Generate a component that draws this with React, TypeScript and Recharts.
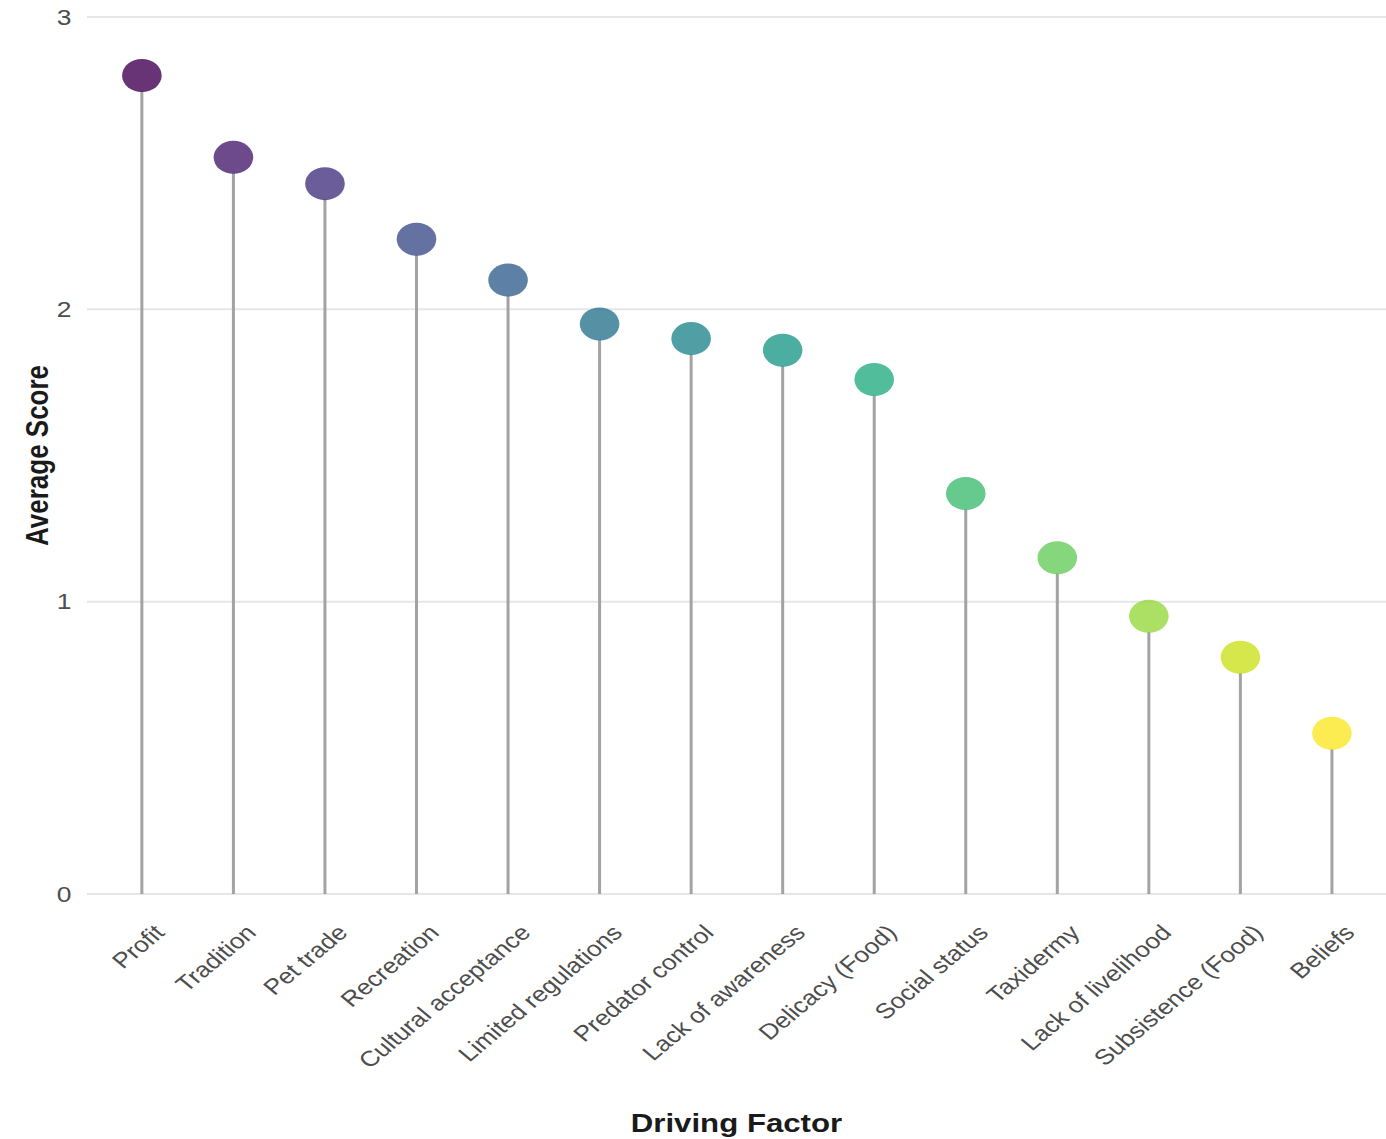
import { BarChart, Bar, XAxis, YAxis, CartesianGrid } from "recharts";

// the reference is stretched horizontally, so the chart is drawn narrower and scaled back out
const STRETCH = 1.2;
const WIDTH = 1386;
const HEIGHT = 1139;

const factors = [
  "Profit",
  "Tradition",
  "Pet trade",
  "Recreation",
  "Cultural acceptance",
  "Limited regulations",
  "Predator control",
  "Lack of awareness",
  "Delicacy (Food)",
  "Social status",
  "Taxidermy",
  "Lack of livelihood",
  "Subsistence (Food)",
  "Beliefs",
];

const scores = [2.8, 2.52, 2.43, 2.24, 2.1, 1.95, 1.9, 1.86, 1.76, 1.37, 1.15, 0.95, 0.81, 0.55];

const yTicks = [0, 1, 2, 3];

// viridis, 14 steps
const palette = [
  "#440154",
  "#481D6F",
  "#453581",
  "#3D4D8A",
  "#34618D",
  "#2B748E",
  "#24878E",
  "#1F998A",
  "#25AC82",
  "#40BC72",
  "#67CC5C",
  "#97D83F",
  "#CBE11E",
  "#FDE725",
];

const chartData = factors.map((factor, i) => ({ factor, score: scores[i] }));

const FONT = "'Liberation Sans', Arial, sans-serif";
const TEXT = "#4d4d4d";
const DOT_R = 16.5;

function Lollipop(props: any) {
  const { x, y, width, height, index } = props;
  const cx = x + width / 2;
  return (
    <g>
      <line x1={cx} y1={y + DOT_R - 1} x2={cx} y2={y + height} stroke="#a3a3a3" strokeWidth={2.5} />
      <circle cx={cx} cy={y} r={DOT_R} fill={palette[index]} fillOpacity={0.8} />
    </g>
  );
}

function FactorTick(props: any) {
  const { x, y, payload } = props;
  return (
    <g transform={`translate(${x + 20},${y + 40})`}>
      <text
        textAnchor="end"
        transform="rotate(-45)"
        fontSize={21.7}
        fontFamily={FONT}
        fill={TEXT}
      >
        {payload.value}
      </text>
    </g>
  );
}

export default function App() {
  const w = WIDTH / STRETCH;
  return (
    <div style={{ position: "absolute", left: 0, top: 0, width: WIDTH, height: HEIGHT, overflow: "hidden", background: "#fff" }}>
      <div style={{ transform: `scaleX(${STRETCH})`, transformOrigin: "0 0" }}>
        <BarChart
          width={w}
          height={HEIGHT}
          data={chartData}
          margin={{ top: 17, right: 0, bottom: 0, left: 0 }}
        >
          <CartesianGrid vertical={false} stroke="#e6e6e6" strokeWidth={2} />
          <XAxis
            dataKey="factor"
            interval={0}
            axisLine={false}
            tickLine={false}
            tickSize={0}
            tickMargin={0}
            height={245}
            padding={{ left: 7.6, right: 6.9 }}
            tick={<FactorTick />}
            label={{
              value: "Driving Factor",
              position: "insideBottom",
              offset: 7,
              fontSize: 26,
              fontWeight: 700,
              fontFamily: FONT,
              fill: "#1a1a1a",
            }}
          />
          <YAxis
            domain={[0, 3]}
            ticks={yTicks}
            axisLine={false}
            tickLine={false}
            tickSize={0}
            tickMargin={13}
            width={72.5}
            tick={{ fontSize: 22, fontFamily: FONT, fill: TEXT }}
            label={{
              value: "Average Score",
              angle: -90,
              position: "insideLeft",
              offset: 31,
              textAnchor: "middle",
              fontSize: 26,
              fontWeight: 700,
              fontFamily: FONT,
              fill: "#1a1a1a",
            }}
          />
          <Bar dataKey="score" shape={<Lollipop />} isAnimationActive={false} />
        </BarChart>
      </div>
    </div>
  );
}
